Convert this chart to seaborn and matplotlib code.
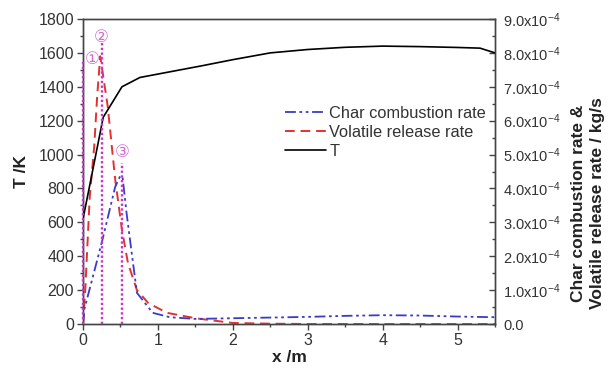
import numpy as np
import pandas as pd
import matplotlib
matplotlib.use("Agg")
import matplotlib.pyplot as plt
from matplotlib.ticker import MultipleLocator, FuncFormatter
from matplotlib.lines import Line2D
import seaborn as sns

# ---------------- data ----------------
x_T = [0, 0.05, 0.27, 0.52, 0.76, 1.0, 1.3, 1.6, 2.0, 2.5, 3.0, 3.5, 4.0, 4.5, 5.0, 5.3, 5.5]
T_K = [620, 730, 1220, 1400, 1455, 1475, 1500, 1525, 1560, 1600, 1620, 1633, 1640, 1637, 1632, 1628, 1600]

x_vol = [0, 0.03, 0.09, 0.15, 0.19, 0.23, 0.33, 0.43, 0.52, 0.60, 0.72, 0.87, 1.12, 1.5, 2.0, 2.5, 3.0, 4.0, 5.0, 5.5]
vol_rate = [0, 1.0e-4, 3.75e-4, 5.25e-4, 6.75e-4, 7.9e-4, 6.42e-4, 4.26e-4, 2.78e-4, 1.8e-4,
            1.0e-4, 0.62e-4, 0.33e-4, 0.17e-4, 0.03e-4, 0.01e-4, 0, 0, 0, 0]

x_char = [0, 0.02, 0.25, 0.43, 0.50, 0.53, 0.58, 0.65, 0.72, 0.93, 1.16, 1.5, 2.0, 2.5, 3.0, 3.5, 4.0, 4.5, 5.0, 5.5]
char_rate = [0, 0.45e-4, 2.4e-4, 4.05e-4, 4.38e-4, 4.3e-4, 3.3e-4, 2.1e-4, 0.92e-4, 0.33e-4,
             0.2e-4, 0.15e-4, 0.17e-4, 0.19e-4, 0.21e-4, 0.24e-4, 0.26e-4, 0.25e-4, 0.22e-4, 0.2e-4]

mark_x = [0, 0.25, 0.52]
mark_top = [1550, 1663, 952]
mark_labels = ["\u2460", "\u2461", "\u2462"]
mark_label_x = [0.12, 0.24, 0.53]
mark_label_y = [1565, 1695, 1015]

legend_labels = ["Char combustion rate", "Volatile release rate", "T"]

# ---------------- style ----------------
sns.set_style("ticks")
plt.rcParams["font.family"] = ["Liberation Sans", "DejaVu Sans", "Noto Sans CJK SC"]
plt.rcParams["mathtext.fontset"] = "custom"
plt.rcParams["mathtext.rm"] = "Liberation Sans"
plt.rcParams["mathtext.it"] = "Liberation Sans:italic"
plt.rcParams["mathtext.bf"] = "Liberation Sans:bold"

c_char = "#3b3bc8"
c_vol = "#e03232"
c_mark = "#cc33cc"
c_text = "#333333"

fig = plt.figure(figsize=(6.13, 3.73), dpi=100)
ax = fig.add_axes([83 / 613, 1 - 324 / 373, 412 / 613, 305 / 373])
ax2 = ax.twinx()

dfT = pd.DataFrame({"x": x_T, "y": T_K})
dfV = pd.DataFrame({"x": x_vol, "y": vol_rate})
dfC = pd.DataFrame({"x": x_char, "y": char_rate})

sns.lineplot(data=dfT, x="x", y="y", ax=ax, color="black", lw=1.2, zorder=3)
sns.lineplot(data=dfV, x="x", y="y", ax=ax2, color=c_vol, lw=1.4, zorder=3)
ax2.lines[-1].set_dashes((5, 3))
sns.lineplot(data=dfC, x="x", y="y", ax=ax2, color=c_char, lw=1.3, zorder=3)
ax2.lines[-1].set_dashes((6, 2, 1.5, 2, 1.5, 2))

# marker lines
ax.vlines(mark_x, 0, mark_top, colors=c_mark, linestyles=(0, (1, 1)), lw=1.7,
          zorder=10, clip_on=False)
for xx, yy, lab in zip(mark_label_x, mark_label_y, mark_labels):
    ax.text(xx, yy, lab, color="#d070d0", fontsize=12, ha="center", va="center",
            family=["DejaVu Sans", "Noto Sans CJK SC"], zorder=11)
ax.set_zorder(ax2.get_zorder() + 1)
ax.patch.set_visible(False)

# axes limits / ticks
ax.set_xlim(0, 5.5)
ax.set_ylim(0, 1800)
ax2.set_ylim(0, 9e-4)
ax.xaxis.set_major_locator(MultipleLocator(1))
ax.xaxis.set_minor_locator(MultipleLocator(0.5))
ax.yaxis.set_major_locator(MultipleLocator(200))
ax.yaxis.set_minor_locator(MultipleLocator(100))
ax2.yaxis.set_major_locator(MultipleLocator(1e-4))
ax2.yaxis.set_minor_locator(MultipleLocator(0.5e-4))


def fmt(v, pos):
    if abs(v) < 1e-9:
        return "0.0"
    return "%.1fx10$^{-4}$" % (v * 1e4)


ax2.yaxis.set_major_formatter(FuncFormatter(fmt))

ax.tick_params(axis="both", which="major", direction="out", length=4, width=1, labelsize=11.5,
               colors="#444444", labelcolor=c_text, pad=2.5)
ax.tick_params(axis="both", which="minor", direction="out", length=2.5, width=1, colors="#444444")
ax.tick_params(axis="y", which="both", right=False)
ax2.tick_params(axis="y", which="major", direction="in", length=4, width=1, labelsize=10.5,
                colors="#444444", labelcolor=c_text, pad=6)
ax2.tick_params(axis="y", which="minor", direction="in", length=2.5, width=1, colors="#444444")

for a in (ax, ax2):
    for s in a.spines.values():
        s.set_visible(True)
        s.set_color("#444444")
        s.set_linewidth(1.0)

ax.set_xlabel("x /m", fontsize=12.5, fontweight="bold", color="#222222", labelpad=1.5)
ax.set_ylabel("T /K", fontsize=12.5, fontweight="bold", color="#222222", labelpad=7)
ax2.set_ylabel("")
fig.text(588 / 613, 1 - 203 / 373, "Char combustion rate &\nVolatile release rate / kg/s",
         rotation=90, ha="center", va="center", multialignment="center",
         fontsize=12.5, fontweight="bold", color="#222222", linespacing=1.3)

handles = [
    Line2D([], [], color=c_char, lw=1.3, dashes=(6, 2, 1.5, 2, 1.5, 2)),
    Line2D([], [], color=c_vol, lw=1.4, dashes=(5, 3)),
    Line2D([], [], color="black", lw=1.2),
]
leg = ax.legend(handles, legend_labels, loc="upper left", bbox_to_anchor=(0.49, 0.715),
                frameon=False, fontsize=11.8, handlelength=2.5, handletextpad=0.2,
                labelspacing=0.25, borderpad=0, borderaxespad=0, labelcolor="#333333")

fig.savefig("out.png", dpi=100)
